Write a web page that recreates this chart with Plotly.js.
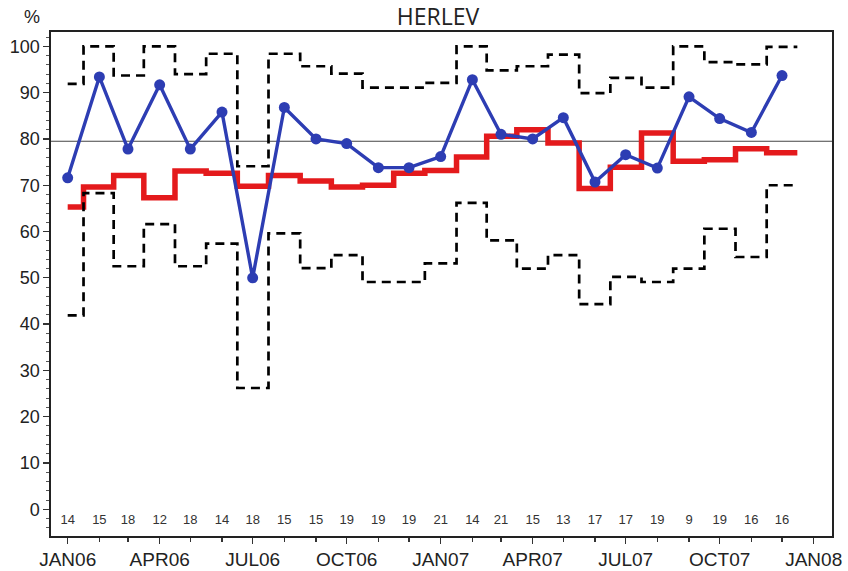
<!DOCTYPE html>
<html>
<head>
<meta charset="utf-8">
<script src="https://cdn.plot.ly/plotly-3.0.1.min.js"></script>
<style>html,body{margin:0;padding:0;background:#fff;}#chart{width:848px;height:571px;}</style>
</head>
<body>
<div id="chart"></div>
<script>
// ---- data ----
const months = ['2006-01-01','2006-02-01','2006-03-01','2006-04-01','2006-05-01','2006-06-01',
                '2006-07-01','2006-08-01','2006-09-01','2006-10-01','2006-11-01','2006-12-01',
                '2007-01-01','2007-02-01','2007-03-01','2007-04-01','2007-05-01','2007-06-01',
                '2007-07-01','2007-08-01','2007-09-01','2007-10-01','2007-11-01','2007-12-01'];
const rate   = [71.6, 93.4, 77.8, 91.7, 77.8, 85.8, 50.0, 86.8, 80.0, 79.0, 73.8, 73.8,
                76.2, 92.8, 81.0, 80.0, 84.6, 70.7, 76.6, 73.7, 89.1, 84.4, 81.4, 93.7];
const center = [65.3, 69.6, 72.1, 67.3, 73.1, 72.6, 69.8, 72.1, 70.9, 69.6, 70.0, 72.6,
                73.2, 76.1, 80.6, 82.0, 79.1, 69.3, 73.9, 81.3, 75.2, 75.5, 77.9, 77.0];
const upper  = [91.9, 100.0, 93.7, 100.0, 94.0, 98.4, 74.1, 98.4, 95.7, 94.1, 91.1, 91.1,
                92.1, 100.0, 94.8, 95.7, 98.2, 89.9, 93.2, 91.1, 100.0, 96.6, 96.1, 99.9];
const lower  = [41.9, 68.3, 52.5, 61.6, 52.5, 57.4, 26.2, 59.6, 52.1, 54.9, 49.1, 49.1,
                53.1, 66.2, 58.1, 52.0, 54.9, 44.3, 50.2, 49.1, 52.0, 60.6, 54.5, 70.0];
const counts = [14, 15, 18, 12, 18, 14, 18, 15, 15, 19, 19, 19,
                21, 14, 21, 15, 13, 17, 17, 19, 9, 19, 16, 16];
const target = 79.5;
const tickDates  = ['2006-01-01','2006-04-01','2006-07-01','2006-10-01','2007-01-01',
                    '2007-04-01','2007-07-01','2007-10-01','2008-01-01'];
const tickLabels = ['JAN06','APR06','JUL06','OCT06','JAN07','APR07','JUL07','OCT07','JAN08'];
const titleText = 'HERLEV';
const unitText = '%';

// ---- step helper: each value spans half a month either side of its month ----
function fmt(ms){ return new Date(ms).toISOString().slice(0,19).replace('T',' '); }
function steps(xs, ys){
  const t = xs.map(d => Date.parse(d + 'T00:00:00Z'));
  const n = t.length;
  const bx = [t[0]];
  for (let i = 1; i < n; i++) bx.push((t[i-1] + t[i]) / 2);
  bx.push(t[n-1] + (t[n-1] - t[n-2]) / 2);
  return {x: bx.map(fmt), y: ys.concat([ys[n-1]])};
}
const sC = steps(months, center), sU = steps(months, upper), sL = steps(months, lower);

const dashStyle = {color: '#000', width: 2.7, dash: '9px,6px', shape: 'hv'};
const traces = [
  {x: sC.x, y: sC.y, mode: 'lines', line: {color: '#e41a1c', width: 5.5, shape: 'hv'}, hoverinfo: 'skip'},
  {x: sU.x, y: sU.y, mode: 'lines', line: dashStyle, hoverinfo: 'skip'},
  {x: sL.x, y: sL.y, mode: 'lines', line: dashStyle, hoverinfo: 'skip'},
  {x: months, y: rate, mode: 'lines+markers',
   line: {color: '#2d3db3', width: 3.4},
   marker: {color: '#2d3db3', size: 11}},
  {x: months, y: counts.map(() => -2.4), text: counts.map(String), mode: 'text',
   textfont: {family: 'Liberation Sans, Arial, sans-serif', size: 13, color: '#333'},
   textposition: 'middle center', hoverinfo: 'skip'}
];

const layout = {
  width: 848, height: 571,
  margin: {l: 51, r: 16, t: 32, b: 35},
  paper_bgcolor: '#fff', plot_bgcolor: '#fff',
  showlegend: false,
  font: {family: 'Liberation Sans, Arial, sans-serif', color: '#222'},
  title: {text: titleText, x: 438/848, xanchor: 'center', xref: 'container',
          y: 1 - 17/571, yanchor: 'middle', yref: 'container',
          font: {family: 'Open Sans, sans-serif', size: 23, color: '#222'}},
  xaxis: {
    type: 'date',
    range: ['2005-12-15 16:00', '2008-01-18 22:00'],
    tickmode: 'array', tickvals: tickDates, ticktext: tickLabels,
    ticks: 'outside', ticklen: 6, tickwidth: 1.3, tickcolor: '#333',
    tickfont: {size: 19, color: '#222'},
    minor: {ticks: 'outside', dtick: 'M1', tick0: '2006-01-01', ticklen: 4, tickwidth: 1.3, tickcolor: '#333', showgrid: false},
    showgrid: false, zeroline: false,
    showline: true, mirror: true, linecolor: '#222', linewidth: 1.6
  },
  yaxis: {
    range: [-5.77, 103.1],
    tickmode: 'linear', tick0: 0, dtick: 10,
    ticks: 'outside', ticklen: 6, tickwidth: 1.3, tickcolor: '#333',
    tickfont: {size: 18, color: '#222'},
    minor: {ticks: 'outside', dtick: 2, ticklen: 3, tickwidth: 1, tickcolor: '#555', showgrid: false},
    showgrid: false, zeroline: false,
    showline: true, mirror: true, linecolor: '#222', linewidth: 1.6
  },
  shapes: [{type: 'line', xref: 'paper', x0: 0, x1: 1, yref: 'y', y0: target, y1: target,
            line: {color: '#444', width: 1.2}, layer: 'below'}],
  annotations: [{text: unitText, xref: 'paper', yref: 'paper',
                 x: (32 - 51) / 781, y: 1 + (32 - 17) / 504,
                 xanchor: 'center', yanchor: 'middle', showarrow: false,
                 font: {size: 18, color: '#222'}}]
};

Plotly.newPlot('chart', traces, layout, {displayModeBar: false, staticPlot: true});
</script>
</body>
</html>
